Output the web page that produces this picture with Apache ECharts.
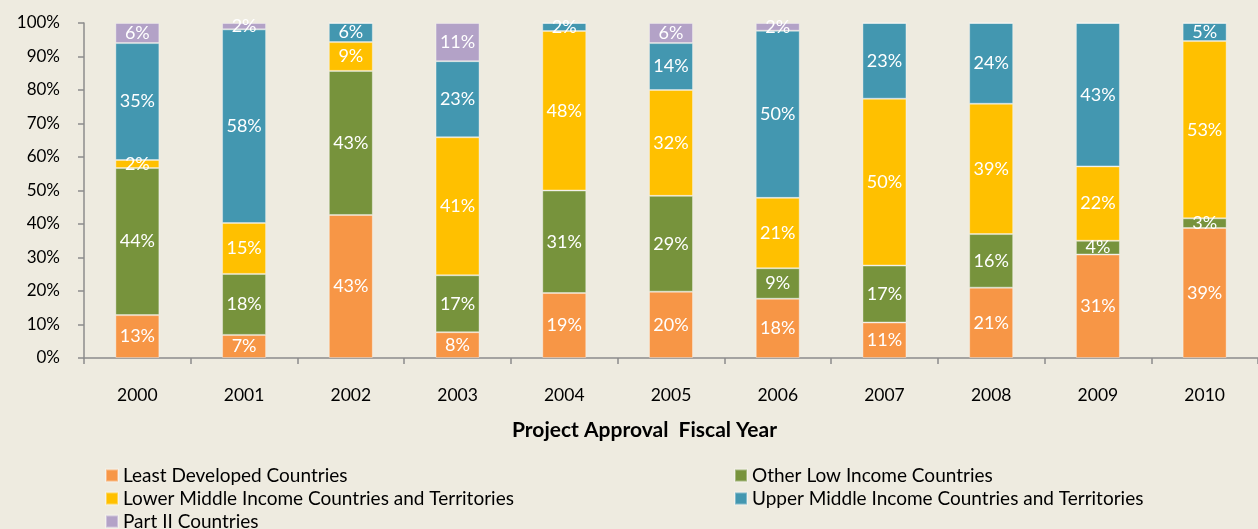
<!DOCTYPE html>
<html>
<head>
<meta charset="utf-8">
<script src="https://cdn.jsdelivr.net/npm/echarts@6/dist/echarts.min.js"></script>
<style>
  html, body { margin: 0; padding: 0; background: #EEEBE0; }
  #main { width: 1258px; height: 529px; }
</style>
</head>
<body>
<div id="main"></div>
<script>
var years = ['2000', '2001', '2002', '2003', '2004', '2005', '2006', '2007', '2008', '2009', '2010'];

// shares in %
var leastDeveloped = [12.8, 6.9, 42.7, 7.7, 19.4, 19.8, 17.7, 10.6, 21.0, 30.9, 38.8];
var otherLowIncome = [43.9, 18.2, 43.0, 17.0, 30.6, 28.6, 9.1, 17.0, 16.0, 4.1, 2.9];
var lowerMiddle = [2.4, 15.2, 8.6, 41.2, 47.6, 31.6, 21.0, 49.8, 38.9, 22.2, 52.9];
var upperMiddle = [34.9, 57.8, 5.7, 22.7, 2.4, 14.0, 49.9, 22.6, 24.1, 42.8, 5.4];
var partII = [6.0, 1.9, 0, 11.4, 0, 6.0, 2.3, 0, 0, 0, 0];

var yTicks = { min: 0, max: 100, interval: 10 };

var font = 'Lato, "Open Sans", sans-serif';

var chart = echarts.init(document.getElementById('main'));

function barSeries (name, data, color) {
  return {
    name: name,
    type: 'bar',
    stack: 'all',
    data: data,
    barWidth: 44,
    itemStyle: {
      color: color,
      borderColor: 'rgba(255,255,255,0.35)',
      borderWidth: 1
    },
    label: {
      show: true,
      position: 'inside',
      color: '#fff',
      fontFamily: font,
      fontSize: 18,
      formatter: function (p) {
        return p.value ? Math.round(p.value) + '%' : ''
      }
    }
  }
}

// one legend per entry, laid out in two columns like the original
function legendItem (name, left, top) {
  return {
    left: left,
    top: top,
    padding: 0,
    itemWidth: 12,
    itemHeight: 12,
    icon: 'rect',
    data: [name],
    textStyle: { fontFamily: font, fontSize: 19, color: '#000', lineHeight: 19 }
  }
}

var option = {
  backgroundColor: '#EEEBE0',
  animation: false,
  textStyle: { fontFamily: font },
  title: {
    text: 'Project Approval  Fiscal Year',
    left: 512,
    top: 420,
    padding: 0,
    textStyle: { fontFamily: font, fontSize: 21, fontWeight: 'bold', color: '#000' }
  },
  legend: [
    legendItem('Least Developed Countries', 105, 466),
    legendItem('Lower Middle Income Countries and Territories', 105, 489),
    legendItem('Part II Countries', 105, 512),
    legendItem('Other Low Income Countries', 734, 466),
    legendItem('Upper Middle Income Countries and Territories', 734, 489)
  ],
  grid: {
    left: 84,
    top: 23,
    width: 1185,
    height: 335,
    containLabel: false
  },
  xAxis: {
    type: 'category',
    data: years,
    axisLine: { lineStyle: { color: '#8c8c8c', width: 1.5 } },
    axisTick: { show: true, length: 6, interval: 0, lineStyle: { color: '#8c8c8c', width: 1.5 } },
    axisLabel: { margin: 28, color: '#000', fontFamily: font, fontSize: 17.5 }
  },
  yAxis: {
    type: 'value',
    min: yTicks.min,
    max: yTicks.max,
    interval: yTicks.interval,
    splitLine: { show: false },
    axisLine: { show: true, lineStyle: { color: '#8c8c8c', width: 1.5 } },
    axisTick: { show: true, length: 6, lineStyle: { color: '#8c8c8c', width: 1.5 } },
    axisLabel: { margin: 24, color: '#000', fontFamily: font, fontSize: 17, formatter: '{value}%' }
  },
  series: [
    barSeries('Least Developed Countries', leastDeveloped, '#F79646'),
    barSeries('Other Low Income Countries', otherLowIncome, '#77933C'),
    barSeries('Lower Middle Income Countries and Territories', lowerMiddle, '#FFC000'),
    barSeries('Upper Middle Income Countries and Territories', upperMiddle, '#4397B0'),
    barSeries('Part II Countries', partII, '#B3A2C7')
  ]
};

chart.setOption(option);
</script>
</body>
</html>
